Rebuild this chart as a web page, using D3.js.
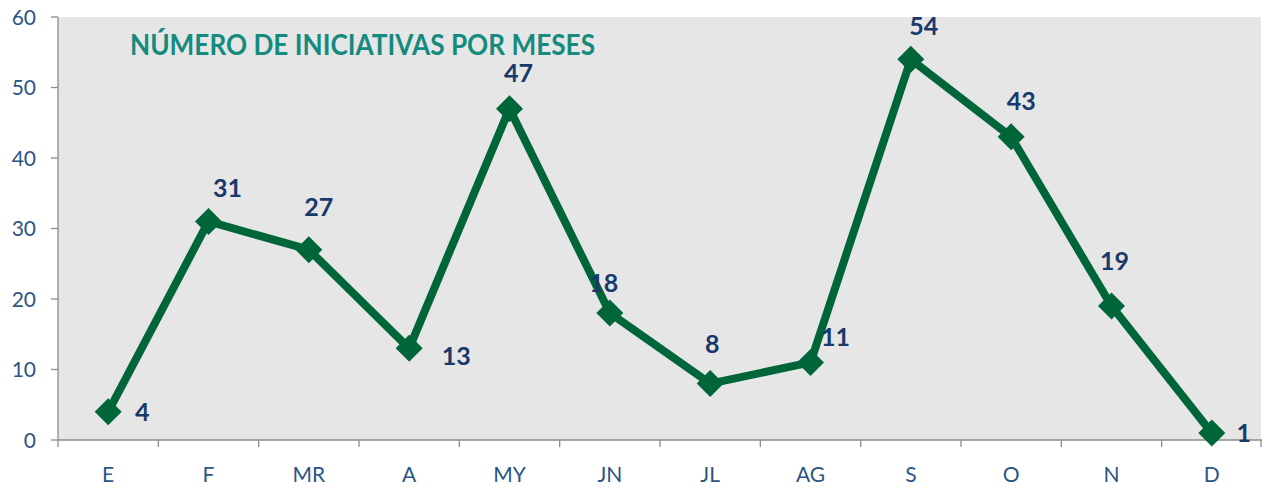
<!DOCTYPE html>
<html><head><meta charset="utf-8">
<script src="https://cdn.jsdelivr.net/npm/d3@7"></script>
<style>body{margin:0;background:#fff;}svg{display:block;}</style>
</head><body>
<svg id="c" width="1270" height="487"></svg>
<script>
const months = ["E","F","MR","A","MY","JN","JL","AG","S","O","N","D"];
const values = [4,31,27,13,47,18,8,11,54,43,19,1];
const yTicks = [0,10,20,30,40,50,60];
const title = "NÚMERO DE INICIATIVAS POR MESES";
// label offsets (dx, dy) relative to the point
const labelDx = [34,19,10,47,9,-6,2,25,13,10,3,32];
const labelDy = [0,-33,-43,8,-36,-30,-40,-25,-33,-36,-45,0];

const svg = d3.select("#c");
const L = 58, R = 1262, T = 17, B = 440;
const x = d3.scaleBand().domain(months).range([L, R]);
const y = d3.scaleLinear().domain([0, 60]).range([B, T]);

svg.append("rect").attr("x", L).attr("y", T).attr("width", R - L - 1).attr("height", B - T).attr("fill", "#e6e6e6");

const axisColor = "#8c8c8c";
const lblColor = "#2a5585";
// y axis
svg.append("line").attr("x1", L).attr("x2", L).attr("y1", T).attr("y2", B).attr("stroke", axisColor).attr("stroke-width", 1.3);
yTicks.forEach(t => {
  svg.append("line").attr("x1", L - 7).attr("x2", L).attr("y1", y(t)).attr("y2", y(t)).attr("stroke", axisColor).attr("stroke-width", 1.3);
  svg.append("text").attr("x", 36).attr("y", y(t)).attr("dy", "0.36em").attr("text-anchor", "end")
    .attr("font-family", "Lato, 'Open Sans', sans-serif").attr("font-size", 21).attr("fill", lblColor).text(t);
});
// x axis
svg.append("line").attr("x1", L).attr("x2", R).attr("y1", B).attr("y2", B).attr("stroke", axisColor).attr("stroke-width", 1.3);
months.forEach((m, i) => {
  const xb = x(m);
  svg.append("line").attr("x1", xb).attr("x2", xb).attr("y1", B).attr("y2", B + 7).attr("stroke", axisColor).attr("stroke-width", 1.3);
  svg.append("text").attr("x", xb + x.bandwidth() / 2).attr("y", 474).attr("dy", "0.36em").attr("text-anchor", "middle")
    .attr("font-family", "Lato, 'Open Sans', sans-serif").attr("font-size", 21).attr("fill", lblColor).text(m);
});
svg.append("line").attr("x1", R - 1).attr("x2", R - 1).attr("y1", B).attr("y2", B + 7).attr("stroke", axisColor).attr("stroke-width", 1.3);

// title
svg.append("text").attr("x", 130).attr("y", 55).attr("font-family", "Lato, sans-serif").attr("font-weight", "bold")
  .attr("font-size", 29).attr("fill", "#148b7e").attr("textLength", 465).attr("lengthAdjust", "spacingAndGlyphs").text(title);

const cx = (d, i) => x(months[i]) + x.bandwidth() / 2;
const green = "#00663a";
svg.append("path").datum(values)
  .attr("d", d3.line().x((d, i) => cx(d, i)).y(d => y(d)))
  .attr("fill", "none").attr("stroke", green).attr("stroke-width", 8).attr("stroke-linejoin", "round");

const s = 13.5;
svg.selectAll("path.m").data(values).join("path").attr("class", "m")
  .attr("d", (d, i) => { const px = cx(d, i), py = y(d); return `M${px},${py - s}L${px + s},${py}L${px},${py + s}L${px - s},${py}Z`; })
  .attr("fill", green);

svg.selectAll("text.v").data(values).join("text").attr("class", "v")
  .attr("x", (d, i) => cx(d, i) + labelDx[i]).attr("y", (d, i) => y(d) + labelDy[i]).attr("dy", "0.36em")
  .attr("text-anchor", "middle").attr("font-family", "Lato, sans-serif").attr("font-weight", "bold")
  .attr("font-size", 25).attr("fill", "#17396b").text(d => d);
</script>
</body></html>
